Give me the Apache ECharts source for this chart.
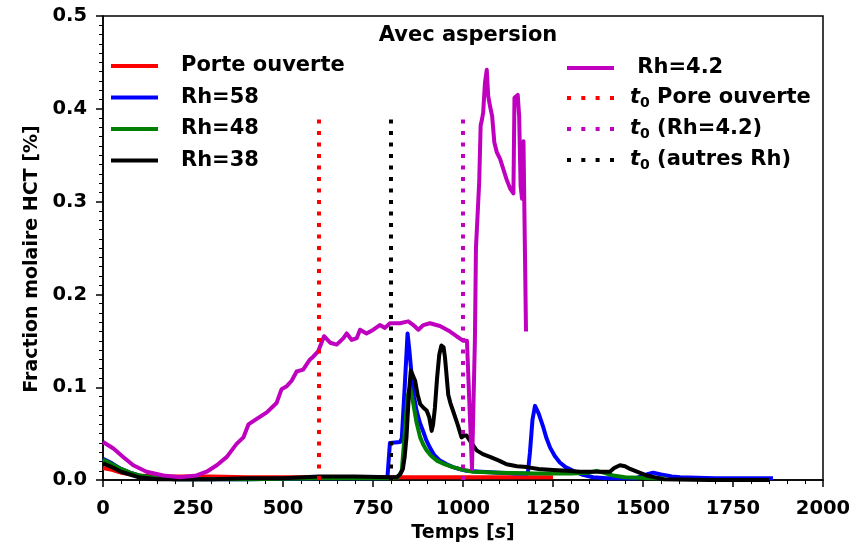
<!DOCTYPE html>
<html>
<head>
<meta charset="utf-8">
<script src="https://cdn.jsdelivr.net/npm/echarts@6/dist/echarts.min.js"></script>
<style>
html, body { margin: 0; padding: 0; background: #fff; }
#main { width: 867px; height: 548px; }
</style>
</head>
<body>
<div id="main"></div>
<script>
// Porte ouverte
var tPorte = [0, 25, 50, 100, 150, 200, 300, 400, 500, 600, 700, 800, 900, 1000, 1100, 1200, 1250];
var vPorte = [0.013, 0.011, 0.008, 0.005, 0.004, 0.004, 0.004, 0.003, 0.003, 0.003, 0.003, 0.003, 0.003, 0.003, 0.003, 0.003, 0.003];

// Rh=58
var tRh58 = [0, 25, 50, 75, 100, 150, 200, 400, 600, 790, 797, 825, 830, 838, 846, 851, 857, 864, 871, 880, 889, 898, 908, 920, 936, 955, 972, 990, 1010, 1050, 1100, 1150, 1180, 1186, 1193, 1200, 1210, 1223, 1232, 1242, 1255, 1269, 1285, 1306, 1330, 1361, 1400, 1480, 1510, 1528, 1550, 1580, 1603, 1700, 1861];
var vRh58 = [0.023, 0.018, 0.012, 0.008, 0.005, 0.002, 0.001, 0.001, 0.002, 0.002, 0.040, 0.041, 0.045, 0.100, 0.158, 0.140, 0.114, 0.090, 0.075, 0.062, 0.053, 0.043, 0.035, 0.027, 0.021, 0.017, 0.014, 0.012, 0.010, 0.009, 0.008, 0.007, 0.007, 0.030, 0.065, 0.080, 0.072, 0.057, 0.045, 0.035, 0.026, 0.019, 0.014, 0.010, 0.006, 0.003, 0.002, 0.002, 0.006, 0.008, 0.006, 0.004, 0.003, 0.002, 0.002];

// Rh=48
var tRh48 = [0, 25, 50, 75, 100, 150, 200, 400, 600, 800, 820, 830, 838, 846, 853, 862, 871, 881, 890, 899, 912, 927, 950, 972, 1000, 1028, 1100, 1200, 1300, 1350, 1371, 1390, 1417, 1450, 1530, 1560];
var vRh48 = [0.022, 0.017, 0.012, 0.008, 0.005, 0.002, 0.001, 0.001, 0.002, 0.002, 0.003, 0.010, 0.050, 0.090, 0.100, 0.082, 0.062, 0.046, 0.038, 0.032, 0.026, 0.021, 0.017, 0.014, 0.011, 0.009, 0.008, 0.007, 0.007, 0.008, 0.010, 0.008, 0.005, 0.003, 0.002, 0.002];

// Rh=38
var tRh38 = [0, 25, 50, 75, 100, 150, 200, 300, 400, 500, 600, 700, 800, 815, 825, 833, 838, 843, 850, 855, 859, 867, 874, 881, 890, 899, 906, 913, 917, 922, 928, 934, 940, 946, 950, 955, 959, 965, 972, 985, 996, 1003, 1010, 1020, 1038, 1055, 1075, 1100, 1121, 1150, 1177, 1210, 1250, 1290, 1325, 1370, 1408, 1420, 1436, 1450, 1464, 1490, 1510, 1556, 1700, 1850];
var vRh38 = [0.018, 0.014, 0.009, 0.006, 0.003, 0.001, 0.001, 0.001, 0.002, 0.002, 0.004, 0.004, 0.003, 0.003, 0.006, 0.012, 0.025, 0.046, 0.095, 0.118, 0.120, 0.107, 0.092, 0.082, 0.078, 0.075, 0.068, 0.053, 0.060, 0.078, 0.110, 0.135, 0.145, 0.143, 0.132, 0.110, 0.092, 0.083, 0.075, 0.060, 0.046, 0.048, 0.048, 0.042, 0.032, 0.028, 0.025, 0.021, 0.017, 0.015, 0.014, 0.012, 0.011, 0.010, 0.009, 0.009, 0.009, 0.013, 0.016, 0.015, 0.012, 0.008, 0.005, 0.001, 0.000, 0.000];

// Rh=4.2
var tRh42 = [0, 29, 56, 84, 121, 168, 214, 260, 288, 316, 344, 371, 390, 404, 427, 455, 482, 496, 510, 524, 538, 556, 575, 584, 598, 607, 614, 631, 649, 668, 677, 691, 705, 714, 732, 751, 769, 783, 797, 825, 848, 862, 876, 890, 908, 936, 964, 982, 1001, 1011, 1018, 1025, 1029, 1033, 1036, 1045, 1049, 1053, 1056, 1061, 1066, 1070, 1075, 1081, 1087, 1094, 1103, 1112, 1121, 1131, 1140, 1143, 1152, 1156, 1160, 1164, 1168, 1173, 1175];
var vRh42 = [0.041, 0.034, 0.025, 0.016, 0.009, 0.005, 0.003, 0.005, 0.009, 0.016, 0.025, 0.039, 0.046, 0.060, 0.066, 0.073, 0.083, 0.098, 0.101, 0.107, 0.117, 0.119, 0.130, 0.133, 0.139, 0.148, 0.155, 0.148, 0.146, 0.153, 0.158, 0.151, 0.153, 0.162, 0.158, 0.162, 0.167, 0.164, 0.169, 0.169, 0.171, 0.167, 0.162, 0.167, 0.169, 0.166, 0.160, 0.155, 0.150, 0.150, 0.080, 0.012, 0.010, 0.150, 0.250, 0.321, 0.382, 0.389, 0.396, 0.428, 0.442, 0.414, 0.403, 0.392, 0.364, 0.353, 0.346, 0.335, 0.324, 0.314, 0.309, 0.412, 0.415, 0.392, 0.317, 0.303, 0.365, 0.365, 0.160];

// t0 lignes verticales
var t0Porte = 600;
var t0Rh42 = 1000;
var t0Autres = 800;
var t0Haut = 0.395;

var xTicks = [0, 250, 500, 750, 1000, 1250, 1500, 1750, 2000];
var yTicks = [0, 0.1, 0.2, 0.3, 0.4, 0.5];

var HctChart = function() {
    var FONT = 'DejaVu Sans';
    // icones de legende : trait plein / pointille
    var ICON_SOLID = 'rect';
    var ICON_DOT = 'path://M0,0h4v4h-4z M14.3,0h4v4h-4z M28.6,0h4v4h-4z M43,0h4v4h-4z';
    var t = {
        init : function() {
            var chart = echarts.init(document.getElementById('main'), null, { renderer : 'canvas' });
            chart.setOption(t.buildOption());
        },
        // assemble [x, y] pairs
        zip : function(xs, ys) {
            var out = [];
            for (var i = 0; i < xs.length; i++) {
                out.push([xs[i], ys[i]]);
            }
            return out;
        },
        lineSerie : function(name, xs, ys, color, width) {
            return {
                name : name,
                type : 'line',
                data : t.zip(xs, ys),
                symbol : 'none',
                smooth : false,
                animation : false,
                lineStyle : { color : color, width : width, join : 'round', cap : 'butt' },
                itemStyle : { color : color }
            };
        },
        vlineSerie : function(name, x, color) {
            return {
                name : name,
                type : 'line',
                data : [[x, 0], [x, t0Haut]],
                symbol : 'none',
                animation : false,
                lineStyle : { color : color, width : 4, type : [4, 7.5], cap : 'butt' },
                itemStyle : { color : color }
            };
        },
        legendText : function(padLeft) {
            return {
                fontFamily : FONT,
                fontWeight : 'bold',
                fontSize : 21,
                color : '#000',
                lineHeight : 22,
                padding : [0, 0, 0, padLeft],
                rich : {
                    it : { fontFamily : FONT, fontWeight : 'bold', fontStyle : 'italic', fontSize : 21, color : '#000', lineHeight : 22 },
                    sub : { fontFamily : FONT, fontWeight : 'bold', fontSize : 14, color : '#000', lineHeight : 14, padding : [10, 0, 0, 0] }
                }
            };
        },
        legendItems : function(names, icons) {
            var out = [];
            for (var i = 0; i < names.length; i++) {
                out.push({ name : names[i], icon : icons[i] });
            }
            return out;
        },
        buildOption : function() {
            return {
                backgroundColor : '#fff',
                animation : false,
                title : {
                    text : 'Avec aspersion',
                    left : 463,
                    top : 20,
                    textAlign : 'center',
                    textStyle : { fontFamily : FONT, fontWeight : 'bold', fontSize : 21, color : '#000' }
                },
                legend : [{
                    data : t.legendItems(['Porte ouverte', 'Rh=58', 'Rh=48', 'Rh=38'], [ICON_SOLID, ICON_SOLID, ICON_SOLID, ICON_SOLID]),
                    orient : 'vertical',
                    left : 106,
                    top : 50,
                    itemWidth : 47,
                    itemHeight : 4,
                    itemGap : 9.5,
                    selectedMode : false,
                    textStyle : t.legendText(18)
                }, {
                    data : t.legendItems([' Rh=4.2', 't0 Pore ouverte', 't0 (Rh=4.2)', 't0 (autres Rh)'], [ICON_SOLID, ICON_DOT, ICON_DOT, ICON_DOT]),
                    orient : 'vertical',
                    left : 562,
                    top : 52,
                    itemWidth : 47,
                    itemHeight : 4,
                    itemGap : 7,
                    selectedMode : false,
                    textStyle : t.legendText(11),
                    formatter : function(name) {
                        if (name.indexOf('t0') === 0) {
                            return '{it|t}{sub|0}' + name.substring(2);
                        }
                        return name;
                    }
                }],
                grid : {
                    left : 103,
                    right : 44,
                    top : 16,
                    bottom : 65,
                    show : true,
                    borderColor : '#000',
                    borderWidth : 1.5,
                    backgroundColor : 'transparent'
                },
                xAxis : {
                    type : 'value',
                    min : xTicks[0],
                    max : xTicks[xTicks.length - 1],
                    interval : xTicks[1] - xTicks[0],
                    name : 'Temps [{i|s}]',
                    nameLocation : 'middle',
                    nameGap : 41,
                    nameTextStyle : {
                        fontFamily : FONT, fontWeight : 'bold', fontSize : 19, color : '#000',
                        rich : { i : { fontFamily : FONT, fontWeight : 'bold', fontStyle : 'italic', fontSize : 19, color : '#000' } }
                    },
                    axisLine : { show : true, lineStyle : { color : '#000', width : 1.5 } },
                    axisTick : { show : true, inside : false, length : 7, lineStyle : { color : '#000', width : 1.5 } },
                    minorTick : { show : true, splitNumber : 5, length : 4, lineStyle : { color : '#000', width : 1 } },
                    splitLine : { show : false },
                    axisLabel : {
                        margin : 19, fontFamily : FONT, fontWeight : 'bold', fontSize : 19.5, color : '#000',
                        formatter : function(v) { return String(v); }
                    }
                },
                yAxis : {
                    type : 'value',
                    min : yTicks[0],
                    max : yTicks[yTicks.length - 1],
                    interval : 0.1,
                    name : 'Fraction molaire HCT [%]',
                    nameLocation : 'middle',
                    nameGap : 60,
                    nameTextStyle : { fontFamily : FONT, fontWeight : 'bold', fontSize : 19, color : '#000', padding : [0, 22, 0, 0] },
                    axisLine : { show : true, lineStyle : { color : '#000', width : 1.5 } },
                    axisTick : { show : true, inside : false, length : 7, lineStyle : { color : '#000', width : 1.5 } },
                    minorTick : { show : true, splitNumber : 10, length : 4, lineStyle : { color : '#000', width : 1 } },
                    splitLine : { show : false },
                    axisLabel : {
                        margin : 16, fontFamily : FONT, fontWeight : 'bold', fontSize : 19.5, color : '#000',
                        formatter : function(v) { return v.toFixed(1); }
                    }
                },
                series : [
                    t.lineSerie('Porte ouverte', tPorte, vPorte, '#ff0000', 4),
                    t.lineSerie('Rh=58', tRh58, vRh58, '#0000ff', 4),
                    t.lineSerie('Rh=48', tRh48, vRh48, '#008000', 4),
                    t.lineSerie('Rh=38', tRh38, vRh38, '#000000', 4),
                    t.lineSerie(' Rh=4.2', tRh42, vRh42, '#bf00bf', 4),
                    t.vlineSerie('t0 Pore ouverte', t0Porte, '#ff0000'),
                    t.vlineSerie('t0 (Rh=4.2)', t0Rh42, '#bf00bf'),
                    t.vlineSerie('t0 (autres Rh)', t0Autres, '#000000')
                ]
            };
        }
    };
    return t;
}();

HctChart.init();
</script>
</body>
</html>
